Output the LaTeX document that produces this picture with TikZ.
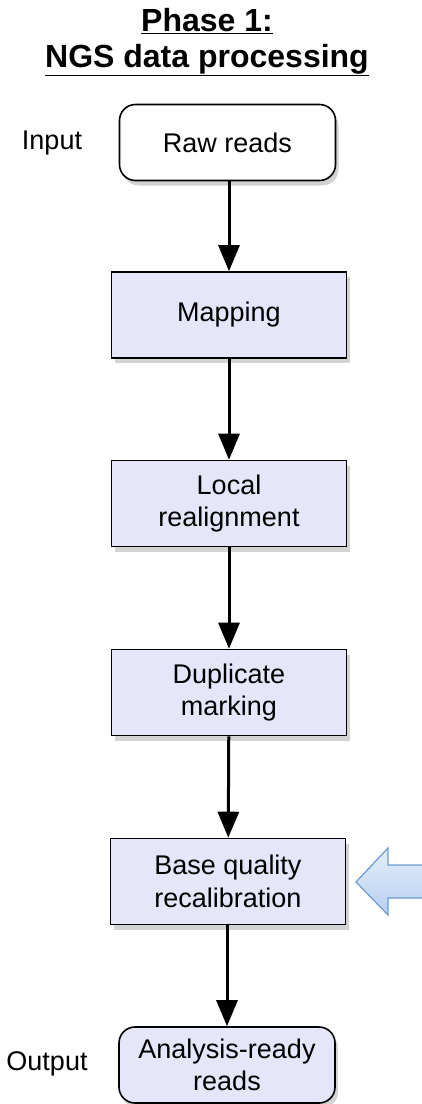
\documentclass[tikz,border=0pt]{standalone}
\usepackage{fontspec}
\setmainfont{Liberation Sans}
\usetikzlibrary{arrows.meta,shadows,shapes.arrows}
\definecolor{boxfill}{HTML}{E6E6FA}
\definecolor{blueedge}{HTML}{6C9BD2}
\definecolor{bluetop}{HTML}{E4EEFB}
\definecolor{bluebot}{HTML}{B7CFEF}
\begin{document}
\begin{tikzpicture}[x=1pt,y=-1pt,
  stepbox/.style={draw=black,line width=1.6pt,fill=boxfill,minimum width=235pt,minimum height=86pt,
    align=center,font=\fontsize{27}{32.5}\selectfont,inner sep=0pt,
    drop shadow={opacity=0.35,shadow xshift=3pt,shadow yshift=-5pt}},
  termbox/.style={stepbox,rounded corners=16pt,minimum width=216pt,minimum height=76pt},
  lbl/.style={font=\fontsize{27}{32}\selectfont,inner sep=0pt},
  flow/.style={line width=3pt,-{Triangle[length=26pt,width=21pt]}}]
\useasboundingbox (0,0) rectangle (422,1104);
\node[font=\bfseries\fontsize{32}{36}\selectfont,align=center,inner sep=0pt] (title) at (207,42)
  {\underline{Phase 1:}\\\underline{NGS data processing}};
\node[termbox,fill=white] (raw) at (227.5,142.5) {Raw reads};
\node[stepbox] (map) at (229,315) {Mapping};
\node[stepbox] (loc) at (229,503.5) {Local\\realignment};
\node[stepbox] (dup) at (229,692.5) {Duplicate\\marking};
\node[stepbox] (bqr) at (228,881.5) {Base quality\\recalibration};
\node[termbox] (out) at (227,1065) {Analysis-ready\\reads};
\node[lbl] (in) at (52,143) {Input};
\node[lbl] (op) at (47,1064) {Output};
\draw[flow] (raw.south -| map.north) -- (map.north);
\draw[flow] (map) -- (loc);
\draw[flow] (loc) -- (dup);
\draw[flow] (dup) -- (bqr);
\draw[flow] (bqr.south -| out.north) -- (out.north);
\coordinate (tip) at (356,882);
\draw[draw=blueedge,line width=1.2pt,top color=bluetop,bottom color=bluebot,line join=miter]
  (tip) -- (388,848) -- (388,865) -- (424,865) -- (424,898) -- (388,898) -- (388,915) -- cycle;
\end{tikzpicture}
\end{document}
